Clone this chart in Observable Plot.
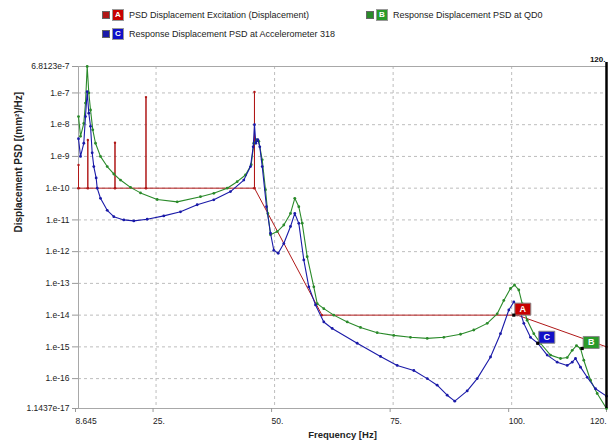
<!DOCTYPE html>
<html><head><meta charset="utf-8">
<script src="https://cdn.jsdelivr.net/npm/d3@7"></script>
<script src="https://cdn.jsdelivr.net/npm/@observablehq/plot@0.6"></script>
<style>
body{margin:0;background:#fff;font-family:"Liberation Sans",Arial,sans-serif;}
#legend{position:relative;width:611px;height:45px;font-size:9px;color:#222;}
.sw{position:absolute;width:6px;height:6px;border:1px solid #666;}
.bx{position:absolute;width:10px;height:10px;color:#fff;font-size:8px;font-weight:bold;text-align:center;line-height:10px;border:1px solid #999;}
.lt{position:absolute;line-height:12px;white-space:nowrap;}
</style>
</head><body>
<div id="legend"></div>
<div id="chart"></div>
<script>
// ---- data ----
const seriesNames = ["PSD Displacement Excitation (Displacement)", "Response Displacement PSD at QD0", "Response Displacement PSD at Accelerometer 318"];
const seriesLetters = ["A", "B", "C"];
const seriesColors = ["#b01818", "#2a8a2a", "#1a1aa8"];
const boxColors = ["#c80000", "#2a9a2a", "#1010c8"];

const redFreq = [8.645, 8.645, 8.645, 10.61, 10.61, 10.61, 16.34, 16.34, 16.34, 22.88, 22.88, 22.88, 45.76, 45.76, 45.76, 60.0, 101.2, 120];
const redPSD = [1e-10, 5.4e-10, 1e-10, 1e-10, 3.3e-9, 1e-10, 1e-10, 2.7e-9, 1e-10, 1e-10, 7.4e-8, 1e-10, 1e-10, 1.07e-7, 1e-10, 1e-14, 1e-14, 1e-15];

const greenFreq = [8.645, 9.07, 9.76, 10.12, 10.48, 10.82, 11.18, 11.66, 12.23, 13.28, 14.7, 16.09, 17.5, 19.61, 21.72, 25.24, 29.46, 34.37, 37.18, 40.0, 42.11, 43.86, 45.07, 45.62, 46.19, 46.67, 47.39, 48.08, 48.57, 49.14, 50.55, 51.94, 53.36, 54.26, 55.11, 55.82, 56.88, 58.27, 58.99, 60.38, 62.49, 65.32, 68.12, 71.64, 75.14, 78.66, 82.19, 85.69, 89.21, 92.01, 94.84, 96.95, 98.34, 99.75, 100.6, 101.5, 102.22, 103.27, 104.67, 106.08, 108.19, 110.3, 111.71, 112.77, 113.67, 114.52, 115.21, 116.63, 118.04, 120];
const greenPSD = [1.8e-8, 4.3e-9, 1.1e-8, 4.8e-8, 6.8123e-7, 1.0e-7, 2.9e-8, 6.9e-9, 2.6e-9, 1.0e-9, 4.8e-10, 2.8e-10, 1.8e-10, 1.06e-10, 7.1e-11, 4.4e-11, 3.7e-11, 5.4e-11, 6.9e-11, 1.0e-10, 1.6e-10, 2.6e-10, 5.5e-10, 2.6e-9, 3.4e-9, 3.0e-9, 7.8e-10, 8.9e-11, 1.6e-11, 3.4e-12, 4.3e-12, 6.9e-12, 1.6e-11, 4.8e-11, 2.6e-11, 7.9e-12, 6.9e-13, 7.8e-14, 2.3e-14, 1.6e-14, 1.0e-14, 6.1e-15, 4.1e-15, 2.8e-15, 2.3e-15, 2.0e-15, 1.85e-15, 2.0e-15, 2.5e-15, 3.4e-15, 5.5e-15, 1.1e-14, 2.9e-14, 6.9e-14, 8.9e-14, 6.2e-14, 2.3e-14, 6.9e-15, 2.6e-15, 1.3e-15, 5.5e-16, 4.3e-16, 4.6e-16, 7.8e-16, 1.1e-15, 8.9e-16, 3.8e-16, 8.9e-17, 3.4e-17, 1.1437e-17];

const blueFreq = [8.645, 9.07, 9.76, 10.12, 10.48, 10.82, 11.18, 11.53, 11.87, 12.37, 12.59, 13.28, 14.7, 16.09, 18.2, 20.31, 23.13, 26.63, 30.16, 33.68, 37.18, 40.7, 43.51, 44.92, 45.49, 45.76, 46.04, 46.46, 46.88, 47.39, 48.29, 49.14, 49.84, 50.76, 51.94, 53.36, 54.26, 55.11, 56.16, 57.22, 58.63, 60.38, 62.15, 67.42, 72.34, 75.86, 79.36, 82.19, 84.29, 86.4, 88.0, 90.62, 92.73, 95.54, 97.64, 99.4, 100.45, 101.5, 102.56, 103.97, 105.51, 107.49, 109.6, 111.71, 112.77, 113.46, 114.52, 115.93, 117.68, 120];
const bluePSD = [3.6e-9, 1.0e-9, 2.6e-9, 1.8e-8, 1.1e-7, 2.3e-8, 8.9e-9, 1.3e-9, 4.8e-10, 2.1e-10, 1.0e-10, 4.8e-11, 2.0e-11, 1.26e-11, 1.0e-11, 9.3e-12, 1.05e-11, 1.34e-11, 1.8e-11, 3.0e-11, 4.3e-11, 7.8e-11, 1.8e-10, 4.8e-10, 2.0e-9, 1.0e-8, 2.6e-9, 3.4e-9, 2.0e-9, 4.8e-10, 2.6e-11, 3.8e-12, 1.1e-12, 8.9e-13, 1.8e-12, 6.2e-12, 1.6e-11, 7.8e-12, 5.5e-13, 7.8e-14, 2.1e-14, 6.1e-15, 3.8e-15, 1.3e-15, 5.0e-16, 2.6e-16, 1.8e-16, 1.0e-16, 6.2e-17, 3.0e-17, 1.95e-17, 4.1e-17, 1.0e-16, 4.8e-16, 2.6e-15, 1.45e-14, 2.6e-14, 1.8e-14, 5.5e-15, 2.0e-15, 1.3e-15, 5.5e-16, 3.3e-16, 2.6e-16, 3.3e-16, 4.3e-16, 2.3e-16, 1.1e-16, 4.8e-17, 2.8e-17];

const markerLetters = ["A", "C", "B"];
const markerFreq = [100.45, 105.51, 114.87];
const markerPSD = [1.0e-14, 1.3e-15, 8.9e-16];
const markerColorIdx = [0, 2, 1];

const xTicks = [8.645, 25, 50, 75, 100, 120];
const xTickLabels = ["8.645", "25.", "50.", "75.", "100.", "120."];
const yTicks = [6.8123e-7, 1e-7, 1e-8, 1e-9, 1e-10, 1e-11, 1e-12, 1e-13, 1e-14, 1e-15, 1e-16, 1.1437e-17];
const yTickLabels = ["6.8123e-7", "1.e-7", "1.e-8", "1.e-9", "1.e-10", "1.e-11", "1.e-12", "1.e-13", "1.e-14", "1.e-15", "1.e-16", "1.1437e-17"];
const xTitle = "Frequency [Hz]";
const yTitle = "Displacement PSD [(mm²)/Hz]";
const cursorLabel = "120.";

// ---- legend ----
const legend = document.getElementById("legend");
const legendPos = [{x: 102, y: 8}, {x: 366, y: 8}, {x: 102, y: 27}];
seriesNames.forEach((name, i) => {
  const p = legendPos[i];
  const sw = document.createElement("div");
  sw.className = "sw"; sw.style.left = p.x + "px"; sw.style.top = (p.y + 3) + "px"; sw.style.background = seriesColors[i];
  const bx = document.createElement("div");
  bx.className = "bx"; bx.style.left = (p.x + 10) + "px"; bx.style.top = (p.y + 1) + "px"; bx.style.background = boxColors[i];
  bx.textContent = seriesLetters[i];
  const lt = document.createElement("div");
  lt.className = "lt"; lt.style.left = (p.x + 27) + "px"; lt.style.top = (p.y + 1) + "px";
  lt.textContent = name;
  legend.append(sw, bx, lt);
});

// ---- chart ----
const rows = (f, v) => f.map((x, i) => ({f: x, v: v[i]}));
const red = rows(redFreq, redPSD);
const green = rows(greenFreq, greenPSD);
const blue = rows(blueFreq, bluePSD);
const markers = markerFreq.map((f, i) => ({f, v: markerPSD[i], letter: markerLetters[i], color: boxColors[markerColorIdx[i]]}));
const xLabelMap = new Map(xTicks.map((t, i) => [t, xTickLabels[i]]));
const yLabelMap = new Map(yTicks.map((t, i) => [t, yTickLabels[i]]));
const boxSymbol = {draw(ctx) { ctx.moveTo(-8, -6); ctx.lineTo(8, -6); ctx.lineTo(8, 6); ctx.lineTo(-8, 6); ctx.closePath(); }};
const gridColor = "#bdbdbd";
const frameColor = "#a8a8a8";

const chart = Plot.plot({
  width: 611, height: 403,
  marginTop: 21, marginBottom: 40, marginLeft: 78, marginRight: 5,
  style: {fontFamily: "Liberation Sans, Arial, sans-serif", fontSize: "8px", color: "#222", background: "#fff"},
  x: {domain: [xTicks[0], xTicks[xTicks.length - 1]]},
  y: {type: "log", domain: [yTicks[yTicks.length - 1], yTicks[0]]},
  marks: [
    Plot.gridY(yTicks.slice(1, -1), {stroke: gridColor, strokeOpacity: 1, strokeDasharray: "3,3"}),
    Plot.gridX(xTicks.slice(1, -1), {stroke: gridColor, strokeOpacity: 1, strokeDasharray: "3,3"}),
    Plot.ruleY([yTicks[0]], {stroke: frameColor}),
    Plot.ruleY([yTicks[yTicks.length - 1]], {stroke: frameColor}),
    Plot.ruleX([xTicks[0]], {stroke: frameColor}),
    Plot.axisY(yTicks, {tickSize: 6, tickFormat: () => "", stroke: "#999", label: null}),
    Plot.axisY(yTicks, {tickSize: 0, tickPadding: 9, tickFormat: d => yLabelMap.get(d), fill: "#222", fontSize: 8.5, label: null}),
    Plot.axisX(xTicks.slice(0, -1), {tickSize: 4, tickPadding: 5, textAnchor: "start", dx: -3, tickFormat: d => xLabelMap.get(d), stroke: "#999", fill: "#222", fontSize: 8.5, label: null}),
    Plot.axisX(xTicks.slice(-1), {tickSize: 4, tickPadding: 5, textAnchor: "end", tickFormat: d => xLabelMap.get(d), stroke: "#999", fill: "#222", fontSize: 8.5, label: null}),
    Plot.line(red, {x: "f", y: "v", stroke: seriesColors[0], strokeWidth: 1}),
    Plot.dot(red, {x: "f", y: "v", r: 1.2, fill: seriesColors[0]}),
    Plot.line(green, {x: "f", y: "v", stroke: seriesColors[1], strokeWidth: 1.1}),
    Plot.dot(green, {x: "f", y: "v", r: 1.4, fill: seriesColors[1]}),
    Plot.line(blue, {x: "f", y: "v", stroke: seriesColors[2], strokeWidth: 1.1}),
    Plot.dot(blue, {x: "f", y: "v", r: 1.4, fill: seriesColors[2]}),
    Plot.ruleX([xTicks[xTicks.length - 1]], {stroke: "#000", strokeWidth: 2.5, insetTop: -4}),
    Plot.dot(markers, {x: "f", y: "v", symbol: boxSymbol, fill: "color", stroke: "#888", strokeWidth: 1, dx: 9, dy: -6}),
    Plot.text(markers, {x: "f", y: "v", text: "letter", fill: "#fff", fontWeight: "bold", fontSize: 9, dx: 9, dy: -6}),
    Plot.dot(markers, {x: "f", y: "v", symbol: "square", r: 1.8, fill: "#000"}),
    Plot.text([cursorLabel], {frameAnchor: "top-right", dy: -10, dx: -1, textAnchor: "end", fontWeight: "bold", fontSize: 8, fill: "#111"}),
    Plot.text([xTitle], {frameAnchor: "bottom", dy: 29, fontWeight: "bold", fontSize: 9.5, fill: "#222"}),
    Plot.text([yTitle], {frameAnchor: "left", dx: -60, dy: -5, rotate: -90, fontWeight: "bold", fontSize: 10, fill: "#222"})
  ]
});
document.getElementById("chart").append(chart);
</script>
</body></html>
